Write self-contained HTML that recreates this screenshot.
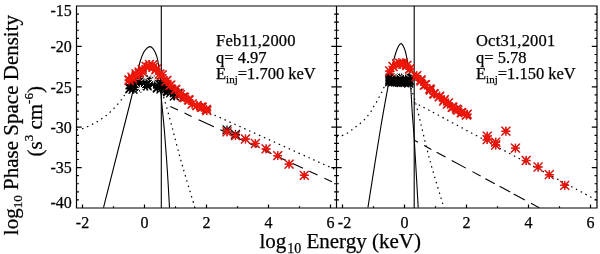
<!DOCTYPE html>
<html><head><meta charset="utf-8"><style>
html,body{margin:0;padding:0;background:#fff;width:600px;height:254px;overflow:hidden}
svg{display:block;will-change:transform}
</style></head><body>
<svg width="600" height="254" viewBox="0 0 600 254">
<defs><clipPath id="cl"><rect x="76.5" y="6" width="260" height="202"/></clipPath><clipPath id="cr"><rect x="336.5" y="6" width="260.5" height="202"/></clipPath></defs>
<g clip-path="url(#cl)" fill="none" stroke="#000" stroke-width="1.1">
<path d="M103.50,207.60C106.78,194.67 118.65,147.93 123.20,130.00C127.75,112.07 128.50,109.33 130.80,100.00C133.10,90.67 135.42,80.50 137.00,74.00C138.58,67.50 139.20,64.58 140.30,61.00C141.40,57.42 142.52,54.62 143.60,52.50C144.68,50.38 145.73,49.28 146.80,48.30C147.87,47.32 149.00,46.60 150.00,46.60C151.00,46.60 151.92,47.32 152.80,48.30C153.68,49.28 154.48,50.55 155.30,52.50C156.12,54.45 156.92,55.75 157.70,60.00C158.48,64.25 159.37,71.33 160.00,78.00C160.63,84.67 160.75,91.00 161.50,100.00C162.25,109.00 163.53,120.33 164.50,132.00C165.47,143.67 166.47,157.40 167.30,170.00C168.13,182.60 169.13,201.33 169.50,207.60"/>
<path d="M161.3,6.0V208.0"/>
<path d="M76.70,129.80C77.65,129.62 80.67,129.20 82.40,128.70C84.13,128.20 85.52,127.48 87.10,126.80C88.68,126.12 90.32,125.40 91.90,124.60C93.48,123.80 95.03,122.92 96.60,122.00C98.17,121.08 99.73,120.15 101.30,119.10C102.87,118.05 104.30,117.08 106.00,115.70C107.70,114.32 109.60,112.67 111.50,110.80C113.40,108.93 115.53,106.63 117.40,104.50C119.27,102.37 121.27,99.92 122.70,98.00C124.13,96.08 124.45,95.00 126.00,93.00C127.55,91.00 129.67,88.00 132.00,86.00C134.33,84.00 137.00,82.17 140.00,81.00C143.00,79.83 148.33,79.33 150.00,79.00" stroke-dasharray="1.5 3.9" stroke-width="1.2"/>
<path d="M158.00,82.00C158.58,83.33 160.42,87.00 161.50,90.00C162.58,93.00 163.33,96.00 164.50,100.00C165.67,104.00 167.17,109.22 168.50,114.00C169.83,118.78 170.68,121.83 172.50,128.70C174.32,135.57 177.15,146.98 179.40,155.20C181.65,163.42 183.50,169.53 186.00,178.00C188.50,186.47 192.90,200.83 194.40,206.00C195.90,211.17 194.90,208.50 195.00,209.00" stroke-dasharray="1.5 3.9" stroke-width="1.2"/>
<path d="M200.00,108.50C203.48,110.08 198.07,107.70 220.90,118.00C243.73,128.30 317.65,161.58 337.00,170.30" stroke-dasharray="1.5 3.9" stroke-width="1.2"/>
<path d="M170.3,106.50L178.0,110.09M184.5,113.12L191.6,116.43M198.6,119.69L213.9,126.82M220.3,129.80L229.0,133.85M234.5,136.42L243.0,140.38M249.0,143.17L257.5,147.14M263.0,149.70L271.5,153.66M277.5,156.46L286.0,160.42M292.7,163.54L303.0,168.34M309.3,171.27L317.5,175.10M324.4,178.31L332.0,181.85"/>
</g>
<g clip-path="url(#cr)" fill="none" stroke="#000" stroke-width="1.1">
<path d="M367.90,207.60C369.97,194.67 376.87,150.60 380.30,130.00C383.73,109.40 386.63,94.00 388.50,84.00C390.37,74.00 390.58,74.17 391.50,70.00C392.42,65.83 393.05,62.50 394.00,59.00C394.95,55.50 396.07,51.57 397.20,49.00C398.33,46.43 399.60,43.68 400.80,43.60C402.00,43.52 403.37,45.98 404.40,48.50C405.43,51.02 406.23,55.12 407.00,58.70C407.77,62.28 408.40,65.62 409.00,70.00C409.60,74.38 410.03,77.50 410.60,85.00C411.17,92.50 411.78,105.83 412.40,115.00C413.02,124.17 413.33,124.57 414.30,140.00C415.27,155.43 417.55,196.33 418.20,207.60"/>
<path d="M414.2,6.0V208.0"/>
<path d="M336.60,136.80C337.50,136.60 340.25,136.18 342.00,135.60C343.75,135.02 345.52,134.22 347.10,133.30C348.68,132.38 350.03,131.18 351.50,130.10C352.97,129.02 354.47,127.90 355.90,126.80C357.33,125.70 358.72,124.67 360.10,123.50C361.48,122.33 362.93,121.07 364.20,119.80C365.47,118.53 366.57,117.28 367.70,115.90C368.83,114.52 370.00,113.07 371.00,111.50C372.00,109.93 372.78,108.07 373.70,106.50C374.62,104.93 375.58,103.68 376.50,102.10C377.42,100.52 378.30,98.70 379.20,97.00C380.10,95.30 381.12,93.47 381.90,91.90C382.68,90.33 383.05,89.25 383.90,87.60C384.75,85.95 385.65,83.43 387.00,82.00C388.35,80.57 391.17,79.50 392.00,79.00" stroke-dasharray="1.5 3.9" stroke-width="1.2"/>
<path d="M411.00,88.00C411.53,89.67 412.98,93.78 414.20,98.00C415.42,102.22 415.67,102.83 418.30,113.30C420.93,123.77 425.72,145.08 430.00,160.80C434.28,176.52 441.50,199.40 444.00,207.60C446.50,215.80 444.83,209.60 445.00,210.00" stroke-dasharray="1.5 3.9" stroke-width="1.2"/>
<path d="M414.00,102.20C420.77,105.82 424.10,107.53 454.60,123.90C485.10,140.27 573.27,187.65 597.00,200.40" stroke-dasharray="1.5 3.9" stroke-width="1.2"/>
<path d="M414.4,140.31L418.0,142.25M424.2,145.60L431.3,149.43M436.6,152.30L445.5,157.10M451.7,160.45L465.9,168.12M472.4,171.63L480.6,176.06M485.4,178.65L494.8,183.72M499.6,186.32L510.2,192.04M513.7,193.93L524.8,199.92M531.0,203.27L539.5,207.86"/>
</g>
<path d="M125.4,88.4h8.8M129.8,84.0v8.8M125.4,84.0l8.8,8.8M125.4,92.8l8.8,-8.8M125.5,88.8h8.8M129.9,84.4v8.8M125.5,84.4l8.8,8.8M125.5,93.2l8.8,-8.8M125.7,84.5h8.8M130.1,80.1v8.8M125.7,80.1l8.8,8.8M125.7,88.9l8.8,-8.8M128.6,89.3h8.8M133.0,84.9v8.8M128.6,84.9l8.8,8.8M128.6,93.7l8.8,-8.8M128.8,84.5h8.8M133.2,80.1v8.8M128.8,80.1l8.8,8.8M128.8,88.9l8.8,-8.8M129.4,86.4h8.8M133.8,82.0v8.8M129.4,82.0l8.8,8.8M129.4,90.8l8.8,-8.8M132.7,85.1h8.8M137.1,80.7v8.8M132.7,80.7l8.8,8.8M132.7,89.5l8.8,-8.8M132.5,82.5h8.8M136.9,78.1v8.8M132.5,78.1l8.8,8.8M132.5,86.9l8.8,-8.8M132.5,88.2h8.8M136.9,83.8v8.8M132.5,83.8l8.8,8.8M132.5,92.6l8.8,-8.8M135.8,85.9h8.8M140.2,81.5v8.8M135.8,81.5l8.8,8.8M135.8,90.3l8.8,-8.8M135.9,80.5h8.8M140.3,76.1v8.8M135.9,76.1l8.8,8.8M135.9,84.9l8.8,-8.8M136.0,84.7h8.8M140.4,80.3v8.8M136.0,80.3l8.8,8.8M136.0,89.1l8.8,-8.8M139.0,79.2h8.8M143.4,74.8v8.8M139.0,74.8l8.8,8.8M139.0,83.6l8.8,-8.8M139.5,82.7h8.8M143.9,78.3v8.8M139.5,78.3l8.8,8.8M139.5,87.1l8.8,-8.8M139.4,86.0h8.8M143.8,81.6v8.8M139.4,81.6l8.8,8.8M139.4,90.4l8.8,-8.8M142.8,85.9h8.8M147.2,81.5v8.8M142.8,81.5l8.8,8.8M142.8,90.3l8.8,-8.8M142.5,84.9h8.8M146.9,80.5v8.8M142.5,80.5l8.8,8.8M142.5,89.3l8.8,-8.8M142.6,86.0h8.8M147.0,81.6v8.8M142.6,81.6l8.8,8.8M142.6,90.4l8.8,-8.8M146.3,79.4h8.8M150.7,75.0v8.8M146.3,75.0l8.8,8.8M146.3,83.8l8.8,-8.8M145.7,80.3h8.8M150.1,75.9v8.8M145.7,75.9l8.8,8.8M145.7,84.7l8.8,-8.8M146.4,82.1h8.8M150.8,77.7v8.8M146.4,77.7l8.8,8.8M146.4,86.5l8.8,-8.8M149.5,81.7h8.8M153.9,77.3v8.8M149.5,77.3l8.8,8.8M149.5,86.1l8.8,-8.8M149.4,82.3h8.8M153.8,77.9v8.8M149.4,77.9l8.8,8.8M149.4,86.7l8.8,-8.8M149.3,83.9h8.8M153.7,79.5v8.8M149.3,79.5l8.8,8.8M149.3,88.3l8.8,-8.8M152.9,87.4h8.8M157.3,83.0v8.8M152.9,83.0l8.8,8.8M152.9,91.8l8.8,-8.8M152.9,87.6h8.8M157.3,83.2v8.8M152.9,83.2l8.8,8.8M152.9,92.0l8.8,-8.8M153.1,88.1h8.8M157.5,83.7v8.8M153.1,83.7l8.8,8.8M153.1,92.5l8.8,-8.8M156.3,82.7h8.8M160.7,78.3v8.8M156.3,78.3l8.8,8.8M156.3,87.1l8.8,-8.8M156.5,89.1h8.8M160.9,84.7v8.8M156.5,84.7l8.8,8.8M156.5,93.5l8.8,-8.8M156.5,85.9h8.8M160.9,81.5v8.8M156.5,81.5l8.8,8.8M156.5,90.3l8.8,-8.8M159.8,85.1h8.8M164.2,80.7v8.8M159.8,80.7l8.8,8.8M159.8,89.5l8.8,-8.8M159.9,88.0h8.8M164.3,83.6v8.8M159.9,83.6l8.8,8.8M159.9,92.4l8.8,-8.8M159.4,83.9h8.8M163.8,79.5v8.8M159.4,79.5l8.8,8.8M159.4,88.3l8.8,-8.8M163.3,91.9h8.8M167.7,87.5v8.8M163.3,87.5l8.8,8.8M163.3,96.3l8.8,-8.8M162.7,90.9h8.8M167.1,86.5v8.8M162.7,86.5l8.8,8.8M162.7,95.3l8.8,-8.8M162.9,87.7h8.8M167.3,83.3v8.8M162.9,83.3l8.8,8.8M162.9,92.1l8.8,-8.8M166.2,92.8h8.8M170.6,88.4v8.8M166.2,88.4l8.8,8.8M166.2,97.2l8.8,-8.8M166.7,89.2h8.8M171.1,84.8v8.8M166.7,84.8l8.8,8.8M166.7,93.6l8.8,-8.8M166.5,89.2h8.8M170.9,84.8v8.8M166.5,84.8l8.8,8.8M166.5,93.6l8.8,-8.8M170.0,92.7h8.8M174.4,88.3v8.8M170.0,88.3l8.8,8.8M170.0,97.1l8.8,-8.8M170.1,95.9h8.8M174.5,91.5v8.8M170.1,91.5l8.8,8.8M170.1,100.3l8.8,-8.8M169.8,96.0h8.8M174.2,91.6v8.8M169.8,91.6l8.8,8.8M169.8,100.4l8.8,-8.8M173.0,93.5h8.8M177.4,89.1v8.8M173.0,89.1l8.8,8.8M173.0,97.9l8.8,-8.8M173.3,93.3h8.8M177.7,88.9v8.8M173.3,88.9l8.8,8.8M173.3,97.7l8.8,-8.8M173.0,95.2h8.8M177.4,90.8v8.8M173.0,90.8l8.8,8.8M173.0,99.6l8.8,-8.8M222.6,129.8h8.8M227.0,125.4v8.8M222.6,125.4l8.8,8.8M222.6,134.2l8.8,-8.8M231.1,134.3h8.8M235.5,129.9v8.8M231.1,129.9l8.8,8.8M231.1,138.7l8.8,-8.8" fill="none" stroke="#000" stroke-width="1.25" stroke-linecap="butt"/>
<path d="M145.0,73.2h7.2M148.6,69.6v7.2M145.0,69.6l7.2,7.2M145.0,76.8l7.2,-7.2M149.7,79.7h7.2M153.3,76.1v7.2M149.7,76.1l7.2,7.2M149.7,83.3l7.2,-7.2M141.4,77.3h7.2M145.0,73.7v7.2M141.4,73.7l7.2,7.2M141.4,80.9l7.2,-7.2M136.8,88.6h7.2M140.4,85.0v7.2M136.8,85.0l7.2,7.2M136.8,92.2l7.2,-7.2M152.4,76.0h7.2M156.0,72.4v7.2M152.4,72.4l7.2,7.2M152.4,79.6l7.2,-7.2" fill="none" stroke="#fff" stroke-width="1.0" stroke-linecap="butt"/>
<path d="M124.7,79.9h8.8M129.1,75.5v8.8M124.7,75.5l8.8,8.8M124.7,84.3l8.8,-8.8M124.8,80.6h8.8M129.2,76.2v8.8M124.8,76.2l8.8,8.8M124.8,85.0l8.8,-8.8M128.2,78.8h8.8M132.6,74.4v8.8M128.2,74.4l8.8,8.8M128.2,83.2l8.8,-8.8M127.6,77.1h8.8M132.0,72.7v8.8M127.6,72.7l8.8,8.8M127.6,81.5l8.8,-8.8M131.8,75.8h8.8M136.2,71.4v8.8M131.8,71.4l8.8,8.8M131.8,80.2l8.8,-8.8M131.7,73.9h8.8M136.1,69.5v8.8M131.7,69.5l8.8,8.8M131.7,78.3l8.8,-8.8M134.8,72.1h8.8M139.2,67.7v8.8M134.8,67.7l8.8,8.8M134.8,76.5l8.8,-8.8M134.8,73.3h8.8M139.2,68.9v8.8M134.8,68.9l8.8,8.8M134.8,77.7l8.8,-8.8M137.8,69.3h8.8M142.2,64.9v8.8M137.8,64.9l8.8,8.8M137.8,73.7l8.8,-8.8M138.0,71.8h8.8M142.4,67.4v8.8M138.0,67.4l8.8,8.8M138.0,76.2l8.8,-8.8M141.8,66.4h8.8M146.2,62.0v8.8M141.8,62.0l8.8,8.8M141.8,70.8l8.8,-8.8M141.8,66.3h8.8M146.2,61.9v8.8M141.8,61.9l8.8,8.8M141.8,70.7l8.8,-8.8M145.1,64.5h8.8M149.5,60.1v8.8M145.1,60.1l8.8,8.8M145.1,68.9l8.8,-8.8M144.6,67.2h8.8M149.0,62.8v8.8M144.6,62.8l8.8,8.8M144.6,71.6l8.8,-8.8M148.2,65.0h8.8M152.6,60.6v8.8M148.2,60.6l8.8,8.8M148.2,69.4l8.8,-8.8M148.8,67.3h8.8M153.2,62.9v8.8M148.8,62.9l8.8,8.8M148.8,71.7l8.8,-8.8M151.6,69.9h8.8M156.0,65.5v8.8M151.6,65.5l8.8,8.8M151.6,74.3l8.8,-8.8M151.8,68.9h8.8M156.2,64.5v8.8M151.8,64.5l8.8,8.8M151.8,73.3l8.8,-8.8M155.0,74.1h8.8M159.4,69.7v8.8M155.0,69.7l8.8,8.8M155.0,78.5l8.8,-8.8M155.4,74.2h8.8M159.8,69.8v8.8M155.4,69.8l8.8,8.8M155.4,78.6l8.8,-8.8M157.1,75.4h8.8M161.5,71.0v8.8M157.1,71.0l8.8,8.8M157.1,79.8l8.8,-8.8M157.8,75.0h8.8M162.2,70.6v8.8M157.8,70.6l8.8,8.8M157.8,79.4l8.8,-8.8M161.5,81.1h8.8M165.9,76.7v8.8M161.5,76.7l8.8,8.8M161.5,85.5l8.8,-8.8M162.5,80.5h8.8M166.9,76.1v8.8M162.5,76.1l8.8,8.8M162.5,84.9l8.8,-8.8M166.4,85.1h8.8M170.8,80.7v8.8M166.4,80.7l8.8,8.8M166.4,89.5l8.8,-8.8M165.6,85.4h8.8M170.0,81.0v8.8M165.6,81.0l8.8,8.8M165.6,89.8l8.8,-8.8M170.9,89.3h8.8M175.3,84.9v8.8M170.9,84.9l8.8,8.8M170.9,93.7l8.8,-8.8M171.3,89.7h8.8M175.7,85.3v8.8M171.3,85.3l8.8,8.8M171.3,94.1l8.8,-8.8M174.8,93.2h8.8M179.2,88.8v8.8M174.8,88.8l8.8,8.8M174.8,97.6l8.8,-8.8M176.0,94.6h8.8M180.4,90.2v8.8M176.0,90.2l8.8,8.8M176.0,99.0l8.8,-8.8M180.2,97.5h8.8M184.6,93.1v8.8M180.2,93.1l8.8,8.8M180.2,101.9l8.8,-8.8M178.9,97.0h8.8M183.3,92.6v8.8M178.9,92.6l8.8,8.8M178.9,101.4l8.8,-8.8M184.0,99.6h8.8M188.4,95.2v8.8M184.0,95.2l8.8,8.8M184.0,104.0l8.8,-8.8M184.7,100.1h8.8M189.1,95.7v8.8M184.7,95.7l8.8,8.8M184.7,104.5l8.8,-8.8M187.8,103.8h8.8M192.2,99.4v8.8M187.8,99.4l8.8,8.8M187.8,108.2l8.8,-8.8M187.8,104.0h8.8M192.2,99.6v8.8M187.8,99.6l8.8,8.8M187.8,108.4l8.8,-8.8M192.7,105.7h8.8M197.1,101.3v8.8M192.7,101.3l8.8,8.8M192.7,110.1l8.8,-8.8M192.5,105.6h8.8M196.9,101.2v8.8M192.5,101.2l8.8,8.8M192.5,110.0l8.8,-8.8M196.7,106.9h8.8M201.1,102.5v8.8M196.7,102.5l8.8,8.8M196.7,111.3l8.8,-8.8M197.8,107.3h8.8M202.2,102.9v8.8M197.8,102.9l8.8,8.8M197.8,111.7l8.8,-8.8M202.0,109.3h8.8M206.4,104.9v8.8M202.0,104.9l8.8,8.8M202.0,113.7l8.8,-8.8M202.4,110.7h8.8M206.8,106.3v8.8M202.4,106.3l8.8,8.8M202.4,115.1l8.8,-8.8M222.6,131.9h8.8M227.0,127.5v8.8M222.6,127.5l8.8,8.8M222.6,136.3l8.8,-8.8M231.1,135.6h8.8M235.5,131.2v8.8M231.1,131.2l8.8,8.8M231.1,140.0l8.8,-8.8M241.1,139.0h8.8M245.5,134.6v8.8M241.1,134.6l8.8,8.8M241.1,143.4l8.8,-8.8M251.0,143.5h8.8M255.4,139.1v8.8M251.0,139.1l8.8,8.8M251.0,147.9l8.8,-8.8M261.7,148.9h8.8M266.1,144.5v8.8M261.7,144.5l8.8,8.8M261.7,153.3l8.8,-8.8M273.3,155.7h8.8M277.7,151.3v8.8M273.3,151.3l8.8,8.8M273.3,160.1l8.8,-8.8M284.7,164.1h8.8M289.1,159.7v8.8M284.7,159.7l8.8,8.8M284.7,168.5l8.8,-8.8M299.9,175.3h8.8M304.3,170.9v8.8M299.9,170.9l8.8,8.8M299.9,179.7l8.8,-8.8" fill="none" stroke="#c01010" stroke-width="1.45" stroke-linecap="butt"/>
<path d="M124.7,79.9h8.8M129.1,75.5v8.8M124.7,75.5l8.8,8.8M124.7,84.3l8.8,-8.8M124.8,80.6h8.8M129.2,76.2v8.8M124.8,76.2l8.8,8.8M124.8,85.0l8.8,-8.8M128.2,78.8h8.8M132.6,74.4v8.8M128.2,74.4l8.8,8.8M128.2,83.2l8.8,-8.8M127.6,77.1h8.8M132.0,72.7v8.8M127.6,72.7l8.8,8.8M127.6,81.5l8.8,-8.8M131.8,75.8h8.8M136.2,71.4v8.8M131.8,71.4l8.8,8.8M131.8,80.2l8.8,-8.8M131.7,73.9h8.8M136.1,69.5v8.8M131.7,69.5l8.8,8.8M131.7,78.3l8.8,-8.8M134.8,72.1h8.8M139.2,67.7v8.8M134.8,67.7l8.8,8.8M134.8,76.5l8.8,-8.8M134.8,73.3h8.8M139.2,68.9v8.8M134.8,68.9l8.8,8.8M134.8,77.7l8.8,-8.8M137.8,69.3h8.8M142.2,64.9v8.8M137.8,64.9l8.8,8.8M137.8,73.7l8.8,-8.8M138.0,71.8h8.8M142.4,67.4v8.8M138.0,67.4l8.8,8.8M138.0,76.2l8.8,-8.8M141.8,66.4h8.8M146.2,62.0v8.8M141.8,62.0l8.8,8.8M141.8,70.8l8.8,-8.8M141.8,66.3h8.8M146.2,61.9v8.8M141.8,61.9l8.8,8.8M141.8,70.7l8.8,-8.8M145.1,64.5h8.8M149.5,60.1v8.8M145.1,60.1l8.8,8.8M145.1,68.9l8.8,-8.8M144.6,67.2h8.8M149.0,62.8v8.8M144.6,62.8l8.8,8.8M144.6,71.6l8.8,-8.8M148.2,65.0h8.8M152.6,60.6v8.8M148.2,60.6l8.8,8.8M148.2,69.4l8.8,-8.8M148.8,67.3h8.8M153.2,62.9v8.8M148.8,62.9l8.8,8.8M148.8,71.7l8.8,-8.8M151.6,69.9h8.8M156.0,65.5v8.8M151.6,65.5l8.8,8.8M151.6,74.3l8.8,-8.8M151.8,68.9h8.8M156.2,64.5v8.8M151.8,64.5l8.8,8.8M151.8,73.3l8.8,-8.8M155.0,74.1h8.8M159.4,69.7v8.8M155.0,69.7l8.8,8.8M155.0,78.5l8.8,-8.8M155.4,74.2h8.8M159.8,69.8v8.8M155.4,69.8l8.8,8.8M155.4,78.6l8.8,-8.8M157.1,75.4h8.8M161.5,71.0v8.8M157.1,71.0l8.8,8.8M157.1,79.8l8.8,-8.8M157.8,75.0h8.8M162.2,70.6v8.8M157.8,70.6l8.8,8.8M157.8,79.4l8.8,-8.8M161.5,81.1h8.8M165.9,76.7v8.8M161.5,76.7l8.8,8.8M161.5,85.5l8.8,-8.8M162.5,80.5h8.8M166.9,76.1v8.8M162.5,76.1l8.8,8.8M162.5,84.9l8.8,-8.8M166.4,85.1h8.8M170.8,80.7v8.8M166.4,80.7l8.8,8.8M166.4,89.5l8.8,-8.8M165.6,85.4h8.8M170.0,81.0v8.8M165.6,81.0l8.8,8.8M165.6,89.8l8.8,-8.8M170.9,89.3h8.8M175.3,84.9v8.8M170.9,84.9l8.8,8.8M170.9,93.7l8.8,-8.8M171.3,89.7h8.8M175.7,85.3v8.8M171.3,85.3l8.8,8.8M171.3,94.1l8.8,-8.8M174.8,93.2h8.8M179.2,88.8v8.8M174.8,88.8l8.8,8.8M174.8,97.6l8.8,-8.8M176.0,94.6h8.8M180.4,90.2v8.8M176.0,90.2l8.8,8.8M176.0,99.0l8.8,-8.8M180.2,97.5h8.8M184.6,93.1v8.8M180.2,93.1l8.8,8.8M180.2,101.9l8.8,-8.8M178.9,97.0h8.8M183.3,92.6v8.8M178.9,92.6l8.8,8.8M178.9,101.4l8.8,-8.8M184.0,99.6h8.8M188.4,95.2v8.8M184.0,95.2l8.8,8.8M184.0,104.0l8.8,-8.8M184.7,100.1h8.8M189.1,95.7v8.8M184.7,95.7l8.8,8.8M184.7,104.5l8.8,-8.8M187.8,103.8h8.8M192.2,99.4v8.8M187.8,99.4l8.8,8.8M187.8,108.2l8.8,-8.8M187.8,104.0h8.8M192.2,99.6v8.8M187.8,99.6l8.8,8.8M187.8,108.4l8.8,-8.8M192.7,105.7h8.8M197.1,101.3v8.8M192.7,101.3l8.8,8.8M192.7,110.1l8.8,-8.8M192.5,105.6h8.8M196.9,101.2v8.8M192.5,101.2l8.8,8.8M192.5,110.0l8.8,-8.8M196.7,106.9h8.8M201.1,102.5v8.8M196.7,102.5l8.8,8.8M196.7,111.3l8.8,-8.8M197.8,107.3h8.8M202.2,102.9v8.8M197.8,102.9l8.8,8.8M197.8,111.7l8.8,-8.8M202.0,109.3h8.8M206.4,104.9v8.8M202.0,104.9l8.8,8.8M202.0,113.7l8.8,-8.8M202.4,110.7h8.8M206.8,106.3v8.8M202.4,106.3l8.8,8.8M202.4,115.1l8.8,-8.8M222.6,131.9h8.8M227.0,127.5v8.8M222.6,127.5l8.8,8.8M222.6,136.3l8.8,-8.8M231.1,135.6h8.8M235.5,131.2v8.8M231.1,131.2l8.8,8.8M231.1,140.0l8.8,-8.8M241.1,139.0h8.8M245.5,134.6v8.8M241.1,134.6l8.8,8.8M241.1,143.4l8.8,-8.8M251.0,143.5h8.8M255.4,139.1v8.8M251.0,139.1l8.8,8.8M251.0,147.9l8.8,-8.8M261.7,148.9h8.8M266.1,144.5v8.8M261.7,144.5l8.8,8.8M261.7,153.3l8.8,-8.8M273.3,155.7h8.8M277.7,151.3v8.8M273.3,151.3l8.8,8.8M273.3,160.1l8.8,-8.8M284.7,164.1h8.8M289.1,159.7v8.8M284.7,159.7l8.8,8.8M284.7,168.5l8.8,-8.8M299.9,175.3h8.8M304.3,170.9v8.8M299.9,170.9l8.8,8.8M299.9,179.7l8.8,-8.8" fill="none" stroke="#f81808" stroke-width="0.8" stroke-linecap="butt"/>
<path d="M385.6,79.3h8.8M390.0,74.9v8.8M385.6,74.9l8.8,8.8M385.6,83.7l8.8,-8.8M385.3,81.9h8.8M389.7,77.5v8.8M385.3,77.5l8.8,8.8M385.3,86.3l8.8,-8.8M385.2,80.0h8.8M389.6,75.6v8.8M385.2,75.6l8.8,8.8M385.2,84.4l8.8,-8.8M385.9,77.8h8.8M390.3,73.4v8.8M385.9,73.4l8.8,8.8M385.9,82.2l8.8,-8.8M385.6,80.6h8.8M390.0,76.2v8.8M385.6,76.2l8.8,8.8M385.6,85.0l8.8,-8.8M387.1,79.4h8.8M391.5,75.0v8.8M387.1,75.0l8.8,8.8M387.1,83.8l8.8,-8.8M387.7,79.8h8.8M392.1,75.4v8.8M387.7,75.4l8.8,8.8M387.7,84.2l8.8,-8.8M387.7,78.2h8.8M392.1,73.8v8.8M387.7,73.8l8.8,8.8M387.7,82.6l8.8,-8.8M387.3,78.0h8.8M391.7,73.6v8.8M387.3,73.6l8.8,8.8M387.3,82.4l8.8,-8.8M387.5,82.2h8.8M391.9,77.8v8.8M387.5,77.8l8.8,8.8M387.5,86.6l8.8,-8.8M389.5,81.4h8.8M393.9,77.0v8.8M389.5,77.0l8.8,8.8M389.5,85.8l8.8,-8.8M389.3,81.3h8.8M393.7,76.9v8.8M389.3,76.9l8.8,8.8M389.3,85.7l8.8,-8.8M389.1,78.9h8.8M393.5,74.5v8.8M389.1,74.5l8.8,8.8M389.1,83.3l8.8,-8.8M389.5,81.2h8.8M393.9,76.8v8.8M389.5,76.8l8.8,8.8M389.5,85.6l8.8,-8.8M389.3,77.9h8.8M393.7,73.5v8.8M389.3,73.5l8.8,8.8M389.3,82.3l8.8,-8.8M391.1,78.5h8.8M395.5,74.1v8.8M391.1,74.1l8.8,8.8M391.1,82.9l8.8,-8.8M391.1,81.6h8.8M395.5,77.2v8.8M391.1,77.2l8.8,8.8M391.1,86.0l8.8,-8.8M391.1,82.0h8.8M395.5,77.6v8.8M391.1,77.6l8.8,8.8M391.1,86.4l8.8,-8.8M391.6,77.7h8.8M396.0,73.3v8.8M391.6,73.3l8.8,8.8M391.6,82.1l8.8,-8.8M391.2,80.0h8.8M395.6,75.6v8.8M391.2,75.6l8.8,8.8M391.2,84.4l8.8,-8.8M392.8,79.6h8.8M397.2,75.2v8.8M392.8,75.2l8.8,8.8M392.8,84.0l8.8,-8.8M393.5,78.0h8.8M397.9,73.6v8.8M393.5,73.6l8.8,8.8M393.5,82.4l8.8,-8.8M393.3,78.0h8.8M397.7,73.6v8.8M393.3,73.6l8.8,8.8M393.3,82.4l8.8,-8.8M393.3,82.1h8.8M397.7,77.7v8.8M393.3,77.7l8.8,8.8M393.3,86.5l8.8,-8.8M393.0,77.4h8.8M397.4,73.0v8.8M393.0,73.0l8.8,8.8M393.0,81.8l8.8,-8.8M394.8,80.2h8.8M399.2,75.8v8.8M394.8,75.8l8.8,8.8M394.8,84.6l8.8,-8.8M394.7,77.8h8.8M399.1,73.4v8.8M394.7,73.4l8.8,8.8M394.7,82.2l8.8,-8.8M395.1,82.2h8.8M399.5,77.8v8.8M395.1,77.8l8.8,8.8M395.1,86.6l8.8,-8.8M395.0,79.5h8.8M399.4,75.1v8.8M395.0,75.1l8.8,8.8M395.0,83.9l8.8,-8.8M395.2,77.9h8.8M399.6,73.5v8.8M395.2,73.5l8.8,8.8M395.2,82.3l8.8,-8.8M397.1,78.3h8.8M401.5,73.9v8.8M397.1,73.9l8.8,8.8M397.1,82.7l8.8,-8.8M397.1,82.4h8.8M401.5,78.0v8.8M397.1,78.0l8.8,8.8M397.1,86.8l8.8,-8.8M396.6,80.3h8.8M401.0,75.9v8.8M396.6,75.9l8.8,8.8M396.6,84.7l8.8,-8.8M397.1,78.2h8.8M401.5,73.8v8.8M397.1,73.8l8.8,8.8M397.1,82.6l8.8,-8.8M396.8,82.6h8.8M401.2,78.2v8.8M396.8,78.2l8.8,8.8M396.8,87.0l8.8,-8.8M399.3,78.0h8.8M403.7,73.6v8.8M399.3,73.6l8.8,8.8M399.3,82.4l8.8,-8.8M399.1,82.3h8.8M403.5,77.9v8.8M399.1,77.9l8.8,8.8M399.1,86.7l8.8,-8.8M398.7,80.6h8.8M403.1,76.2v8.8M398.7,76.2l8.8,8.8M398.7,85.0l8.8,-8.8M398.5,79.3h8.8M402.9,74.9v8.8M398.5,74.9l8.8,8.8M398.5,83.7l8.8,-8.8M399.0,80.5h8.8M403.4,76.1v8.8M399.0,76.1l8.8,8.8M399.0,84.9l8.8,-8.8M401.0,78.0h8.8M405.4,73.6v8.8M401.0,73.6l8.8,8.8M401.0,82.4l8.8,-8.8M400.7,82.0h8.8M405.1,77.6v8.8M400.7,77.6l8.8,8.8M400.7,86.4l8.8,-8.8M400.9,79.9h8.8M405.3,75.5v8.8M400.9,75.5l8.8,8.8M400.9,84.3l8.8,-8.8M400.7,82.7h8.8M405.1,78.3v8.8M400.7,78.3l8.8,8.8M400.7,87.1l8.8,-8.8M400.9,77.6h8.8M405.3,73.2v8.8M400.9,73.2l8.8,8.8M400.9,82.0l8.8,-8.8M402.9,79.5h8.8M407.3,75.1v8.8M402.9,75.1l8.8,8.8M402.9,83.9l8.8,-8.8M402.6,78.9h8.8M407.0,74.5v8.8M402.6,74.5l8.8,8.8M402.6,83.3l8.8,-8.8M402.7,79.5h8.8M407.1,75.1v8.8M402.7,75.1l8.8,8.8M402.7,83.9l8.8,-8.8M402.4,81.1h8.8M406.8,76.7v8.8M402.4,76.7l8.8,8.8M402.4,85.5l8.8,-8.8M402.4,81.9h8.8M406.8,77.5v8.8M402.4,77.5l8.8,8.8M402.4,86.3l8.8,-8.8M404.2,82.3h8.8M408.6,77.9v8.8M404.2,77.9l8.8,8.8M404.2,86.7l8.8,-8.8M404.8,80.8h8.8M409.2,76.4v8.8M404.8,76.4l8.8,8.8M404.8,85.2l8.8,-8.8M404.8,79.5h8.8M409.2,75.1v8.8M404.8,75.1l8.8,8.8M404.8,83.9l8.8,-8.8M404.8,80.4h8.8M409.2,76.0v8.8M404.8,76.0l8.8,8.8M404.8,84.8l8.8,-8.8M404.4,83.2h8.8M408.8,78.8v8.8M404.4,78.8l8.8,8.8M404.4,87.6l8.8,-8.8" fill="none" stroke="#000" stroke-width="1.25" stroke-linecap="butt"/>
<path d="M396.8,71.5h7.2M400.4,67.9v7.2M396.8,67.9l7.2,7.2M396.8,75.1l7.2,-7.2M392.4,73.0h7.2M396.0,69.4v7.2M392.4,69.4l7.2,7.2M392.4,76.6l7.2,-7.2M400.9,73.0h7.2M404.5,69.4v7.2M400.9,69.4l7.2,7.2M400.9,76.6l7.2,-7.2" fill="none" stroke="#fff" stroke-width="1.0" stroke-linecap="butt"/>
<path d="M385.4,71.0h8.8M389.8,66.6v8.8M385.4,66.6l8.8,8.8M385.4,75.4l8.8,-8.8M385.7,71.4h8.8M390.1,67.0v8.8M385.7,67.0l8.8,8.8M385.7,75.8l8.8,-8.8M388.6,66.5h8.8M393.0,62.1v8.8M388.6,62.1l8.8,8.8M388.6,70.9l8.8,-8.8M388.6,66.5h8.8M393.0,62.1v8.8M388.6,62.1l8.8,8.8M388.6,70.9l8.8,-8.8M392.4,63.8h8.8M396.8,59.4v8.8M392.4,59.4l8.8,8.8M392.4,68.2l8.8,-8.8M392.2,64.0h8.8M396.6,59.6v8.8M392.2,59.6l8.8,8.8M392.2,68.4l8.8,-8.8M395.3,63.1h8.8M399.7,58.7v8.8M395.3,58.7l8.8,8.8M395.3,67.5l8.8,-8.8M395.8,63.5h8.8M400.2,59.1v8.8M395.8,59.1l8.8,8.8M395.8,67.9l8.8,-8.8M398.4,62.8h8.8M402.8,58.4v8.8M398.4,58.4l8.8,8.8M398.4,67.2l8.8,-8.8M398.5,64.4h8.8M402.9,60.0v8.8M398.5,60.0l8.8,8.8M398.5,68.8l8.8,-8.8M402.3,65.6h8.8M406.7,61.2v8.8M402.3,61.2l8.8,8.8M402.3,70.0l8.8,-8.8M402.4,65.4h8.8M406.8,61.0v8.8M402.4,61.0l8.8,8.8M402.4,69.8l8.8,-8.8M405.8,68.8h8.8M410.2,64.4v8.8M405.8,64.4l8.8,8.8M405.8,73.2l8.8,-8.8M405.2,68.9h8.8M409.6,64.5v8.8M405.2,64.5l8.8,8.8M405.2,73.3l8.8,-8.8M411.6,76.6h8.8M416.0,72.2v8.8M411.6,72.2l8.8,8.8M411.6,81.0l8.8,-8.8M412.3,75.6h8.8M416.7,71.2v8.8M412.3,71.2l8.8,8.8M412.3,80.0l8.8,-8.8M416.6,81.0h8.8M421.0,76.6v8.8M416.6,76.6l8.8,8.8M416.6,85.4l8.8,-8.8M416.5,79.8h8.8M420.9,75.4v8.8M416.5,75.4l8.8,8.8M416.5,84.2l8.8,-8.8M420.0,85.0h8.8M424.4,80.6v8.8M420.0,80.6l8.8,8.8M420.0,89.4l8.8,-8.8M421.2,84.7h8.8M425.6,80.3v8.8M421.2,80.3l8.8,8.8M421.2,89.1l8.8,-8.8M425.4,88.8h8.8M429.8,84.4v8.8M425.4,84.4l8.8,8.8M425.4,93.2l8.8,-8.8M426.0,90.1h8.8M430.4,85.7v8.8M426.0,85.7l8.8,8.8M426.0,94.5l8.8,-8.8M429.8,94.0h8.8M434.2,89.6v8.8M429.8,89.6l8.8,8.8M429.8,98.4l8.8,-8.8M429.3,93.6h8.8M433.7,89.2v8.8M429.3,89.2l8.8,8.8M429.3,98.0l8.8,-8.8M435.2,96.1h8.8M439.6,91.7v8.8M435.2,91.7l8.8,8.8M435.2,100.5l8.8,-8.8M434.9,96.9h8.8M439.3,92.5v8.8M434.9,92.5l8.8,8.8M434.9,101.3l8.8,-8.8M439.9,99.6h8.8M444.3,95.2v8.8M439.9,95.2l8.8,8.8M439.9,104.0l8.8,-8.8M439.3,101.0h8.8M443.7,96.6v8.8M439.3,96.6l8.8,8.8M439.3,105.4l8.8,-8.8M444.0,102.9h8.8M448.4,98.5v8.8M444.0,98.5l8.8,8.8M444.0,107.3l8.8,-8.8M443.1,104.2h8.8M447.5,99.8v8.8M443.1,99.8l8.8,8.8M443.1,108.6l8.8,-8.8M448.4,107.4h8.8M452.8,103.0v8.8M448.4,103.0l8.8,8.8M448.4,111.8l8.8,-8.8M447.8,107.0h8.8M452.2,102.6v8.8M447.8,102.6l8.8,8.8M447.8,111.4l8.8,-8.8M453.5,110.2h8.8M457.9,105.8v8.8M453.5,105.8l8.8,8.8M453.5,114.6l8.8,-8.8M452.2,109.1h8.8M456.6,104.7v8.8M452.2,104.7l8.8,8.8M452.2,113.5l8.8,-8.8M456.9,112.5h8.8M461.3,108.1v8.8M456.9,108.1l8.8,8.8M456.9,116.9l8.8,-8.8M457.4,112.9h8.8M461.8,108.5v8.8M457.4,108.5l8.8,8.8M457.4,117.3l8.8,-8.8M462.0,115.2h8.8M466.4,110.8v8.8M462.0,110.8l8.8,8.8M462.0,119.6l8.8,-8.8M462.8,114.2h8.8M467.2,109.8v8.8M462.8,109.8l8.8,8.8M462.8,118.6l8.8,-8.8M482.8,136.1h8.8M487.2,131.7v8.8M482.8,131.7l8.8,8.8M482.8,140.5l8.8,-8.8M482.8,139.7h8.8M487.2,135.3v8.8M482.8,135.3l8.8,8.8M482.8,144.1l8.8,-8.8M491.3,142.2h8.8M495.7,137.8v8.8M491.3,137.8l8.8,8.8M491.3,146.6l8.8,-8.8M491.3,145.0h8.8M495.7,140.6v8.8M491.3,140.6l8.8,8.8M491.3,149.4l8.8,-8.8M501.5,131.2h8.8M505.9,126.8v8.8M501.5,126.8l8.8,8.8M501.5,135.6l8.8,-8.8M511.0,148.1h8.8M515.4,143.7v8.8M511.0,143.7l8.8,8.8M511.0,152.5l8.8,-8.8M521.8,160.5h8.8M526.2,156.1v8.8M521.8,156.1l8.8,8.8M521.8,164.9l8.8,-8.8M533.7,167.0h8.8M538.1,162.6v8.8M533.7,162.6l8.8,8.8M533.7,171.4l8.8,-8.8M544.9,174.7h8.8M549.3,170.3v8.8M544.9,170.3l8.8,8.8M544.9,179.1l8.8,-8.8M560.3,185.3h8.8M564.7,180.9v8.8M560.3,180.9l8.8,8.8M560.3,189.7l8.8,-8.8" fill="none" stroke="#c01010" stroke-width="1.45" stroke-linecap="butt"/>
<path d="M385.4,71.0h8.8M389.8,66.6v8.8M385.4,66.6l8.8,8.8M385.4,75.4l8.8,-8.8M385.7,71.4h8.8M390.1,67.0v8.8M385.7,67.0l8.8,8.8M385.7,75.8l8.8,-8.8M388.6,66.5h8.8M393.0,62.1v8.8M388.6,62.1l8.8,8.8M388.6,70.9l8.8,-8.8M388.6,66.5h8.8M393.0,62.1v8.8M388.6,62.1l8.8,8.8M388.6,70.9l8.8,-8.8M392.4,63.8h8.8M396.8,59.4v8.8M392.4,59.4l8.8,8.8M392.4,68.2l8.8,-8.8M392.2,64.0h8.8M396.6,59.6v8.8M392.2,59.6l8.8,8.8M392.2,68.4l8.8,-8.8M395.3,63.1h8.8M399.7,58.7v8.8M395.3,58.7l8.8,8.8M395.3,67.5l8.8,-8.8M395.8,63.5h8.8M400.2,59.1v8.8M395.8,59.1l8.8,8.8M395.8,67.9l8.8,-8.8M398.4,62.8h8.8M402.8,58.4v8.8M398.4,58.4l8.8,8.8M398.4,67.2l8.8,-8.8M398.5,64.4h8.8M402.9,60.0v8.8M398.5,60.0l8.8,8.8M398.5,68.8l8.8,-8.8M402.3,65.6h8.8M406.7,61.2v8.8M402.3,61.2l8.8,8.8M402.3,70.0l8.8,-8.8M402.4,65.4h8.8M406.8,61.0v8.8M402.4,61.0l8.8,8.8M402.4,69.8l8.8,-8.8M405.8,68.8h8.8M410.2,64.4v8.8M405.8,64.4l8.8,8.8M405.8,73.2l8.8,-8.8M405.2,68.9h8.8M409.6,64.5v8.8M405.2,64.5l8.8,8.8M405.2,73.3l8.8,-8.8M411.6,76.6h8.8M416.0,72.2v8.8M411.6,72.2l8.8,8.8M411.6,81.0l8.8,-8.8M412.3,75.6h8.8M416.7,71.2v8.8M412.3,71.2l8.8,8.8M412.3,80.0l8.8,-8.8M416.6,81.0h8.8M421.0,76.6v8.8M416.6,76.6l8.8,8.8M416.6,85.4l8.8,-8.8M416.5,79.8h8.8M420.9,75.4v8.8M416.5,75.4l8.8,8.8M416.5,84.2l8.8,-8.8M420.0,85.0h8.8M424.4,80.6v8.8M420.0,80.6l8.8,8.8M420.0,89.4l8.8,-8.8M421.2,84.7h8.8M425.6,80.3v8.8M421.2,80.3l8.8,8.8M421.2,89.1l8.8,-8.8M425.4,88.8h8.8M429.8,84.4v8.8M425.4,84.4l8.8,8.8M425.4,93.2l8.8,-8.8M426.0,90.1h8.8M430.4,85.7v8.8M426.0,85.7l8.8,8.8M426.0,94.5l8.8,-8.8M429.8,94.0h8.8M434.2,89.6v8.8M429.8,89.6l8.8,8.8M429.8,98.4l8.8,-8.8M429.3,93.6h8.8M433.7,89.2v8.8M429.3,89.2l8.8,8.8M429.3,98.0l8.8,-8.8M435.2,96.1h8.8M439.6,91.7v8.8M435.2,91.7l8.8,8.8M435.2,100.5l8.8,-8.8M434.9,96.9h8.8M439.3,92.5v8.8M434.9,92.5l8.8,8.8M434.9,101.3l8.8,-8.8M439.9,99.6h8.8M444.3,95.2v8.8M439.9,95.2l8.8,8.8M439.9,104.0l8.8,-8.8M439.3,101.0h8.8M443.7,96.6v8.8M439.3,96.6l8.8,8.8M439.3,105.4l8.8,-8.8M444.0,102.9h8.8M448.4,98.5v8.8M444.0,98.5l8.8,8.8M444.0,107.3l8.8,-8.8M443.1,104.2h8.8M447.5,99.8v8.8M443.1,99.8l8.8,8.8M443.1,108.6l8.8,-8.8M448.4,107.4h8.8M452.8,103.0v8.8M448.4,103.0l8.8,8.8M448.4,111.8l8.8,-8.8M447.8,107.0h8.8M452.2,102.6v8.8M447.8,102.6l8.8,8.8M447.8,111.4l8.8,-8.8M453.5,110.2h8.8M457.9,105.8v8.8M453.5,105.8l8.8,8.8M453.5,114.6l8.8,-8.8M452.2,109.1h8.8M456.6,104.7v8.8M452.2,104.7l8.8,8.8M452.2,113.5l8.8,-8.8M456.9,112.5h8.8M461.3,108.1v8.8M456.9,108.1l8.8,8.8M456.9,116.9l8.8,-8.8M457.4,112.9h8.8M461.8,108.5v8.8M457.4,108.5l8.8,8.8M457.4,117.3l8.8,-8.8M462.0,115.2h8.8M466.4,110.8v8.8M462.0,110.8l8.8,8.8M462.0,119.6l8.8,-8.8M462.8,114.2h8.8M467.2,109.8v8.8M462.8,109.8l8.8,8.8M462.8,118.6l8.8,-8.8M482.8,136.1h8.8M487.2,131.7v8.8M482.8,131.7l8.8,8.8M482.8,140.5l8.8,-8.8M482.8,139.7h8.8M487.2,135.3v8.8M482.8,135.3l8.8,8.8M482.8,144.1l8.8,-8.8M491.3,142.2h8.8M495.7,137.8v8.8M491.3,137.8l8.8,8.8M491.3,146.6l8.8,-8.8M491.3,145.0h8.8M495.7,140.6v8.8M491.3,140.6l8.8,8.8M491.3,149.4l8.8,-8.8M501.5,131.2h8.8M505.9,126.8v8.8M501.5,126.8l8.8,8.8M501.5,135.6l8.8,-8.8M511.0,148.1h8.8M515.4,143.7v8.8M511.0,143.7l8.8,8.8M511.0,152.5l8.8,-8.8M521.8,160.5h8.8M526.2,156.1v8.8M521.8,156.1l8.8,8.8M521.8,164.9l8.8,-8.8M533.7,167.0h8.8M538.1,162.6v8.8M533.7,162.6l8.8,8.8M533.7,171.4l8.8,-8.8M544.9,174.7h8.8M549.3,170.3v8.8M544.9,170.3l8.8,8.8M544.9,179.1l8.8,-8.8M560.3,185.3h8.8M564.7,180.9v8.8M560.3,180.9l8.8,8.8M560.3,189.7l8.8,-8.8" fill="none" stroke="#f81808" stroke-width="0.8" stroke-linecap="butt"/>
<path d="M76.5,6.0H597.0V208.0H76.5Z M336.5,6.0V208.0" fill="none" stroke="#000" stroke-width="1.2"/>
<path d="M76.5,14.08h2.4 M336.5,14.08h-2.4 M336.5,14.08h2.4 M597.0,14.08h-2.4 M76.5,22.16h2.4 M336.5,22.16h-2.4 M336.5,22.16h2.4 M597.0,22.16h-2.4 M76.5,30.24h2.4 M336.5,30.24h-2.4 M336.5,30.24h2.4 M597.0,30.24h-2.4 M76.5,38.32h2.4 M336.5,38.32h-2.4 M336.5,38.32h2.4 M597.0,38.32h-2.4 M76.5,46.40h5.2 M336.5,46.40h-5.2 M336.5,46.40h5.2 M597.0,46.40h-5.2 M76.5,54.48h2.4 M336.5,54.48h-2.4 M336.5,54.48h2.4 M597.0,54.48h-2.4 M76.5,62.56h2.4 M336.5,62.56h-2.4 M336.5,62.56h2.4 M597.0,62.56h-2.4 M76.5,70.64h2.4 M336.5,70.64h-2.4 M336.5,70.64h2.4 M597.0,70.64h-2.4 M76.5,78.72h2.4 M336.5,78.72h-2.4 M336.5,78.72h2.4 M597.0,78.72h-2.4 M76.5,86.80h5.2 M336.5,86.80h-5.2 M336.5,86.80h5.2 M597.0,86.80h-5.2 M76.5,94.88h2.4 M336.5,94.88h-2.4 M336.5,94.88h2.4 M597.0,94.88h-2.4 M76.5,102.96h2.4 M336.5,102.96h-2.4 M336.5,102.96h2.4 M597.0,102.96h-2.4 M76.5,111.04h2.4 M336.5,111.04h-2.4 M336.5,111.04h2.4 M597.0,111.04h-2.4 M76.5,119.12h2.4 M336.5,119.12h-2.4 M336.5,119.12h2.4 M597.0,119.12h-2.4 M76.5,127.20h5.2 M336.5,127.20h-5.2 M336.5,127.20h5.2 M597.0,127.20h-5.2 M76.5,135.28h2.4 M336.5,135.28h-2.4 M336.5,135.28h2.4 M597.0,135.28h-2.4 M76.5,143.36h2.4 M336.5,143.36h-2.4 M336.5,143.36h2.4 M597.0,143.36h-2.4 M76.5,151.44h2.4 M336.5,151.44h-2.4 M336.5,151.44h2.4 M597.0,151.44h-2.4 M76.5,159.52h2.4 M336.5,159.52h-2.4 M336.5,159.52h2.4 M597.0,159.52h-2.4 M76.5,167.60h5.2 M336.5,167.60h-5.2 M336.5,167.60h5.2 M597.0,167.60h-5.2 M76.5,175.68h2.4 M336.5,175.68h-2.4 M336.5,175.68h2.4 M597.0,175.68h-2.4 M76.5,183.76h2.4 M336.5,183.76h-2.4 M336.5,183.76h2.4 M597.0,183.76h-2.4 M76.5,191.84h2.4 M336.5,191.84h-2.4 M336.5,191.84h2.4 M597.0,191.84h-2.4 M76.5,199.92h2.4 M336.5,199.92h-2.4 M336.5,199.92h2.4 M597.0,199.92h-2.4 M82.50,208.0v-3.6 M342.50,208.0v-3.6 M113.50,208.0v-1.8 M373.50,208.0v-1.8 M144.50,208.0v-3.6 M404.50,208.0v-3.6 M175.50,208.0v-1.8 M435.50,208.0v-1.8 M206.50,208.0v-3.6 M466.50,208.0v-3.6 M237.50,208.0v-1.8 M497.50,208.0v-1.8 M268.50,208.0v-3.6 M528.50,208.0v-3.6 M299.50,208.0v-1.8 M559.50,208.0v-1.8 M330.50,208.0v-3.6 M590.50,208.0v-3.6" fill="none" stroke="#000" stroke-width="1.2"/>
<text x="71.8" y="15.7" font-family="Liberation Serif" stroke="#000" stroke-width="0.25" font-size="16" text-anchor="end">-15</text>
<text x="71.8" y="51.9" font-family="Liberation Serif" stroke="#000" stroke-width="0.25" font-size="16" text-anchor="end">-20</text>
<text x="71.8" y="92.5" font-family="Liberation Serif" stroke="#000" stroke-width="0.25" font-size="16" text-anchor="end">-25</text>
<text x="71.8" y="133.0" font-family="Liberation Serif" stroke="#000" stroke-width="0.25" font-size="16" text-anchor="end">-30</text>
<text x="71.8" y="173.0" font-family="Liberation Serif" stroke="#000" stroke-width="0.25" font-size="16" text-anchor="end">-35</text>
<text x="71.8" y="208.3" font-family="Liberation Serif" stroke="#000" stroke-width="0.25" font-size="16" text-anchor="end">-40</text>
<text x="82.50" y="228.2" font-family="Liberation Serif" stroke="#000" stroke-width="0.25" font-size="16" text-anchor="middle">-2</text>
<text x="144.50" y="228.2" font-family="Liberation Serif" stroke="#000" stroke-width="0.25" font-size="16" text-anchor="middle">0</text>
<text x="206.50" y="228.2" font-family="Liberation Serif" stroke="#000" stroke-width="0.25" font-size="16" text-anchor="middle">2</text>
<text x="268.50" y="228.2" font-family="Liberation Serif" stroke="#000" stroke-width="0.25" font-size="16" text-anchor="middle">4</text>
<text x="330.50" y="228.2" font-family="Liberation Serif" stroke="#000" stroke-width="0.25" font-size="16" text-anchor="middle">6</text>
<text x="344.50" y="228.2" font-family="Liberation Serif" stroke="#000" stroke-width="0.25" font-size="16" text-anchor="middle">-2</text>
<text x="404.50" y="228.2" font-family="Liberation Serif" stroke="#000" stroke-width="0.25" font-size="16" text-anchor="middle">0</text>
<text x="466.50" y="228.2" font-family="Liberation Serif" stroke="#000" stroke-width="0.25" font-size="16" text-anchor="middle">2</text>
<text x="528.50" y="228.2" font-family="Liberation Serif" stroke="#000" stroke-width="0.25" font-size="16" text-anchor="middle">4</text>
<text x="590.50" y="228.2" font-family="Liberation Serif" stroke="#000" stroke-width="0.25" font-size="16" text-anchor="middle">6</text>
<text x="259.5" y="247.9" font-family="Liberation Serif" stroke="#000" stroke-width="0.25" font-size="21">log<tspan font-size="14" dx="0.8" dy="4.6">10</tspan><tspan dy="-4.6"> Energy (keV)</tspan></text>
<text transform="translate(17.7,235.2) rotate(-90)" font-family="Liberation Serif" stroke="#000" stroke-width="0.25" font-size="21">log<tspan font-size="13.2" dy="4.3">10</tspan><tspan dy="-4.3"> Phase Space Density</tspan></text>
<text transform="translate(41.5,156.5) rotate(-90)" font-family="Liberation Serif" stroke="#000" stroke-width="0.25" font-size="21">(s<tspan font-size="13" dy="-8.8">3</tspan><tspan dy="8.8"> cm</tspan><tspan font-size="13" dy="-8.8">-6</tspan><tspan dy="8.8">)</tspan></text>
<text x="216" y="46.3" font-family="Liberation Serif" stroke="#000" stroke-width="0.25" font-size="16.5" letter-spacing="0.2">Feb11,2000</text>
<text x="216" y="62.6" font-family="Liberation Serif" stroke="#000" stroke-width="0.25" font-size="16.5">q= 4.97</text>
<text x="216" y="78.8" font-family="Liberation Serif" stroke="#000" stroke-width="0.25" font-size="16.5">E<tspan font-size="11" dy="4">inj</tspan><tspan dy="-4">=1.700 keV</tspan></text>
<text x="476" y="46.3" font-family="Liberation Serif" stroke="#000" stroke-width="0.25" font-size="16.5" letter-spacing="0.2">Oct31,2001</text>
<text x="476" y="62.6" font-family="Liberation Serif" stroke="#000" stroke-width="0.25" font-size="16.5">q= 5.78</text>
<text x="476" y="78.8" font-family="Liberation Serif" stroke="#000" stroke-width="0.25" font-size="16.5">E<tspan font-size="11" dy="4">inj</tspan><tspan dy="-4">=1.150 keV</tspan></text>
</svg>
</body></html>
